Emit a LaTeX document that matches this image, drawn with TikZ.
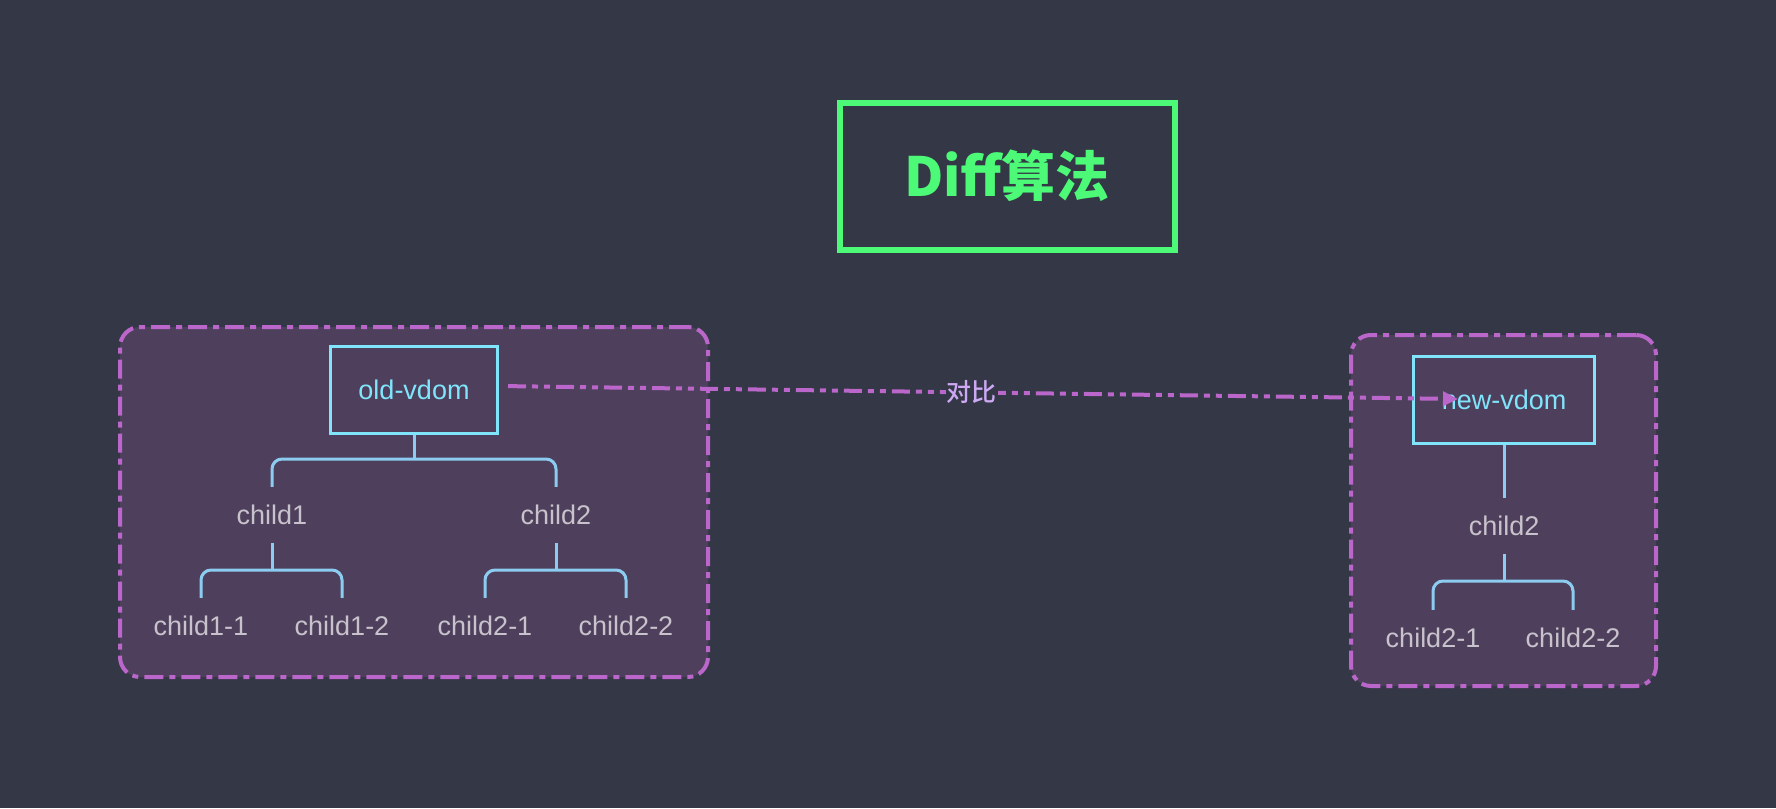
\documentclass[tikz,border=0pt]{standalone}
\usepackage{fontspec}
\setmainfont{Liberation Sans}
\newfontfamily\cjk{Noto Sans CJK SC}
\newfontfamily\cjkm{Noto Sans CJK SC Medium}
\usetikzlibrary{arrows.meta}
\definecolor{bg}{RGB}{52,55,69}
\definecolor{cfill}{RGB}{78,64,92}
\definecolor{cborder}{RGB}{186,102,202}
\definecolor{boxc}{RGB}{128,229,251}
\definecolor{treec}{RGB}{140,204,240}
\definecolor{childc}{RGB}{200,194,204}
\definecolor{titlec}{RGB}{76,250,120}
\definecolor{lblc}{RGB}{205,168,245}
\tikzset{
  container/.style={draw=cborder, fill=cfill, line width=4pt, rounded corners=20pt,
    dash pattern=on 19pt off 6pt on 6pt off 6pt, inner sep=0pt},
  vbox/.style={draw=boxc, line width=3pt, text=boxc, inner sep=0pt,
    font=\fontsize{27}{32}\selectfont},
  child/.style={text=childc, inner sep=0pt, minimum height=56pt,
    font=\fontsize{27}{32}\selectfont},
  tree/.style={draw=treec, line width=3pt, rounded corners=10pt},
  cmp/.style={draw=cborder, line width=4pt,
    dash pattern=on 18pt off 6pt on 6pt off 6pt on 6pt off 6pt,
    -{Triangle[length=15pt,width=14pt]}},
}
\begin{document}
\begin{tikzpicture}[x=1pt,y=-1pt]
\fill[bg] (0,0) rectangle (1776,808);
\useasboundingbox (0,0) rectangle (1776,808);

% title
\node[draw=titlec, line width=6pt, minimum width=335pt, minimum height=147pt,
  text=titlec, font=\cjk\bfseries\fontsize{54}{60}\selectfont] (title) at (1007,176) {Diff算法};

% containers
\node[container, minimum width=588pt, minimum height=350pt] (left) at (414,502) {};
\node[container, minimum width=305pt, minimum height=351pt] (right) at (1503.5,510.5) {};

% old tree
\node[vbox, minimum width=167pt, minimum height=87pt] (old) at (414,390) {old-vdom};
\node[child] (c1) at (272,515) {child1};
\node[child] (c2) at (556,515) {child2};
\node[child] (c11) at (201,626) {child1-1};
\node[child] (c12) at (342,626) {child1-2};
\node[child] (c21) at (485,626) {child2-1};
\node[child] (c22) at (626,626) {child2-2};
\coordinate (j0) at (414,459);
\coordinate (j1) at (272,570);
\coordinate (j2) at (556,570);
\draw[tree] (old.south) -- (j0);
\draw[tree] (c1.north) -- (c1.north |- j0) -- (c2.north |- j0) -- (c2.north);
\draw[tree] (c1.south) -- (j1);
\draw[tree] (c11.north) -- (c11.north |- j1) -- (c12.north |- j1) -- (c12.north);
\draw[tree] (c2.south) -- (j2);
\draw[tree] (c21.north) -- (c21.north |- j2) -- (c22.north |- j2) -- (c22.north);

% new tree
\node[vbox, minimum width=181pt, minimum height=87pt] (new) at (1504,400) {new-vdom};
\node[child] (n2) at (1504,526) {child2};
\node[child] (n21) at (1433,638) {child2-1};
\node[child] (n22) at (1573,638) {child2-2};
\coordinate (j3) at (1504,581);
\draw[tree] (new.south) -- (n2.north);
\draw[tree] (n2.south) -- (j3);
\draw[tree] (n21.north) -- (n21.north |- j3) -- (n22.north |- j3) -- (n22.north);

% compare arrow
\coordinate (arrEnd) at (1458,399);
\draw[cmp, shorten <=9pt] ([yshift=4pt]old.east) -- (arrEnd)
  node[pos=0.493, fill=bg, inner sep=1pt, text=lblc,
       font=\cjkm\fontsize{25}{27}\selectfont] (lbl) {对比};
\end{tikzpicture}
\end{document}
